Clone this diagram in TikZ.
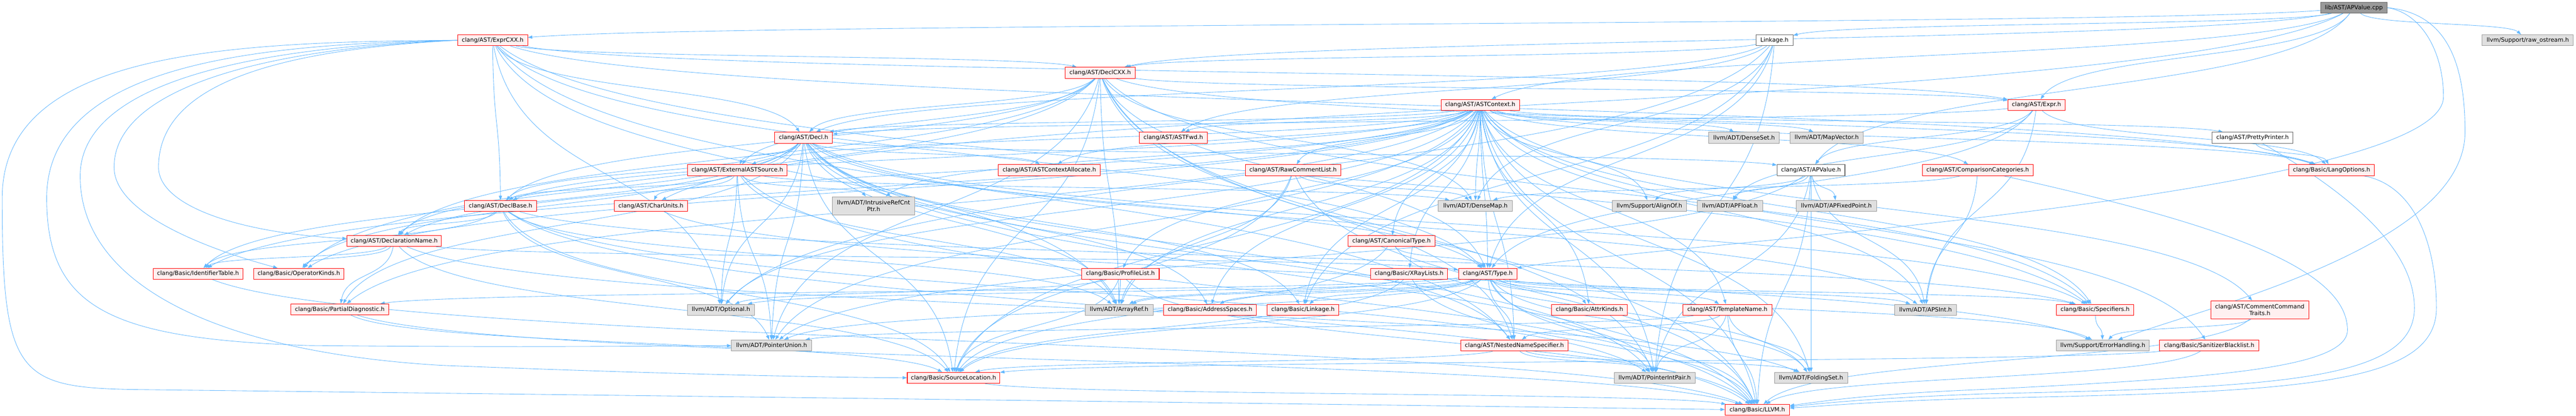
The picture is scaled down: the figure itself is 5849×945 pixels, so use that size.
\documentclass[tikz,border=0pt]{standalone}
\usepackage{fontspec}
\setmainfont{DejaVu Sans}
\usetikzlibrary{arrows.meta,calc}
\definecolor{edgeblue}{HTML}{63B8FF}
\definecolor{redfill}{HTML}{FFF0F0}
\definecolor{grayfill}{HTML}{E0E0E0}
\definecolor{grayline}{HTML}{999999}
\definecolor{darkline}{HTML}{666666}
\definecolor{rootfill}{HTML}{999999}
\pgfdeclarelayer{bg}
\pgfsetlayers{bg,main}
\tikzset{
  nbase/.style={rectangle, inner sep=0pt, minimum height=12.5pt, line width=0.6pt, font=\fontsize{6.6}{7.8}\selectfont, text=black, align=center},
  redbox/.style={nbase, draw=red, fill=redfill},
  graybox/.style={nbase, draw=grayline, fill=grayfill},
  whitebox/.style={nbase, draw=darkline, fill=white},
  rootbox/.style={nbase, draw=darkline, fill=rootfill},
  edge/.style={draw=edgeblue, line width=0.5pt, -{Triangle[length=5pt,width=3.6pt]}},
}
\newcommand\E[2]{\draw[edge] let \p1=(#1.center),\p2=(#2.center) in (#1) .. controls ({\x1+0.12*(\x2-\x1)},{\y1+0.55*(\y2-\y1)}) and ({\x2-0.12*(\x2-\x1)},{\y2-0.55*(\y2-\y1)}) .. (#2);}
\begin{document}
\begin{tikzpicture}[x=0.5pt,y=-0.5pt]
\begin{pgfonlayer}{bg}
\fill[white] (0,0) rectangle (5849,945);
\end{pgfonlayer}
\useasboundingbox (0,0) rectangle (5849,945);
% rank 0
\node[rootbox, minimum width=75.5pt] (cpp) at (5344.5,17.5) {lib/AST/APValue.cpp};
% rank 1
\node[redbox, minimum width=79.5pt] (exprcxx) at (1118.5,91.5) {clang/AST/ExprCXX.h};
\node[whitebox, minimum width=42pt] (linkageL) at (4029,91.5) {Linkage.h};
\node[graybox, minimum width=103.5pt] (rawos) at (5739.5,91.5) {llvm/Support/raw\_ostream.h};
% rank 2
\node[redbox, minimum width=80pt] (declcxx) at (2498,165.5) {clang/AST/DeclCXX.h};
% rank 3
\node[redbox, minimum width=89pt] (astctx) at (3361,238.5) {clang/AST/ASTContext.h};
\node[redbox, minimum width=65pt] (expr) at (4624,238.5) {clang/AST/Expr.h};
% rank 4
\node[redbox, minimum width=65.5pt] (decl) at (1824.5,313) {clang/AST/Decl.h};
\node[redbox, minimum width=77pt] (astfwd) at (2664,313) {clang/AST/ASTFwd.h};
\node[graybox, minimum width=80pt] (denseset) at (3960,313) {llvm/ADT/DenseSet.h};
\node[graybox, minimum width=83.5pt] (mapvec) at (4147.5,313) {llvm/ADT/MapVector.h};
\node[whitebox, minimum width=91.5pt] (pretty) at (5114.5,313) {clang/AST/PrettyPrinter.h};
% rank 5
\node[redbox, minimum width=113pt] (extsrc) at (1674,386.5) {clang/AST/ExternalASTSource.h};
\node[redbox, minimum width=115.5pt] (alloc) at (2382.5,386.5) {clang/AST/ASTContextAllocate.h};
\node[redbox, minimum width=108pt] (rawcomment) at (2936,386.5) {clang/AST/RawCommentList.h};
\node[whitebox, minimum width=77pt] (apvalue) at (4112,386.5) {clang/AST/APValue.h};
\node[redbox, minimum width=125.5pt] (cmpcat) at (4490.5,386.5) {clang/AST/ComparisonCategories.h};
\node[redbox, minimum width=97pt] (langopts) at (5294,386.5) {clang/Basic/LangOptions.h};
% rank 6
\node[redbox, minimum width=81.5pt] (declbase) at (1136.5,468) {clang/AST/DeclBase.h};
\node[redbox, minimum width=83pt] (charunits) at (1478,468) {clang/AST/CharUnits.h};
\node[graybox, minimum width=93.5pt, minimum height=20.5pt] (irc) at (1983.5,467.5) {llvm/ADT/IntrusiveRefCnt\\Ptr.h};
\node[graybox, minimum width=84pt] (densemap) at (3350,468) {llvm/ADT/DenseMap.h};
\node[graybox, minimum width=84pt] (alignof) at (3745,468) {llvm/Support/AlignOf.h};
\node[graybox, minimum width=74pt] (apfloat) at (3928,468) {llvm/ADT/APFloat.h};
\node[graybox, minimum width=91.5pt] (apfixed) at (4169.5,468) {llvm/ADT/APFixedPoint.h};
% rank 7
\node[redbox, minimum width=107pt] (declname) at (895,547.5) {clang/AST/DeclarationName.h};
\node[redbox, minimum width=98.5pt] (canon) at (3159.5,547.5) {clang/AST/CanonicalType.h};
% rank 8
\node[redbox, minimum width=101.5pt] (idtable) at (449.5,622) {clang/Basic/IdentifierTable.h};
\node[redbox, minimum width=102.5pt] (opkinds) at (678.5,622) {clang/Basic/OperatorKinds.h};
\node[redbox, minimum width=88pt] (profile) at (2544,622) {clang/Basic/ProfileList.h};
\node[redbox, minimum width=87.5pt] (xray) at (3199.5,622) {clang/Basic/XRayLists.h};
\node[redbox, minimum width=66pt] (type) at (3378,622) {clang/AST/Type.h};
% rank 9
\node[redbox, minimum width=111.5pt] (pdiag) at (771.5,703) {clang/Basic/PartialDiagnostic.h};
\node[graybox, minimum width=76pt] (optional) at (1637,704) {llvm/ADT/Optional.h};
\node[graybox, minimum width=77pt] (arrayref) at (2541,704) {llvm/ADT/ArrayRef.h};
\node[redbox, minimum width=105.5pt] (addrspace) at (2747.5,704) {clang/Basic/AddressSpaces.h};
\node[redbox, minimum width=81.5pt] (linkageB) at (2958.5,704) {clang/Basic/Linkage.h};
\node[redbox, minimum width=86pt] (attrkinds) at (3609,704) {clang/Basic/AttrKinds.h};
\node[redbox, minimum width=101pt] (tmplname) at (3922,704) {clang/AST/TemplateName.h};
\node[graybox, minimum width=70pt] (apsint) at (4372,704) {llvm/ADT/APSInt.h};
\node[redbox, minimum width=88pt] (specifiers) at (4757,704) {clang/Basic/Specifiers.h};
\node[redbox, minimum width=111pt, minimum height=20.5pt] (cct) at (5131,704) {clang/AST/CommentCommand\\Traits.h};
% rank 10
\node[graybox, minimum width=91pt] (pointerunion) at (1752,785) {llvm/ADT/PointerUnion.h};
\node[redbox, minimum width=121.5pt] (nns) at (3438.5,785) {clang/AST/NestedNameSpecifier.h};
\node[graybox, minimum width=105.5pt] (errh) at (4774.5,785) {llvm/Support/ErrorHandling.h};
\node[redbox, minimum width=113pt] (sanit) at (5016,785) {clang/Basic/SanitizerBlacklist.h};
% rank 11
\node[redbox, minimum width=105pt] (srcloc) at (2165,858.5) {clang/Basic/SourceLocation.h};
\node[graybox, minimum width=92pt] (pip) at (3757,858.5) {llvm/ADT/PointerIntPair.h};
\node[graybox, minimum width=83pt] (folding) at (4112,858.5) {llvm/ADT/FoldingSet.h};
% rank 12
\node[redbox, minimum width=73pt] (llvmh) at (3990,931.5) {clang/Basic/LLVM.h};

\begin{pgfonlayer}{bg}
\foreach \t in {apvalue,linkageL,astctx,charunits,declcxx,expr,exprcxx,rawos} {\E{cpp}{\t}}
\draw[edge] (cpp.east) .. controls (5560,30) and (5597,150) .. (5597,300) .. controls (5597,560) and (5000,700) .. (errh);
\draw[edge] (cpp.east) .. controls (5500,30) and (5548,120) .. (5548,220) .. controls (5548,450) and (3700,560) .. (type);
\foreach \t in {astfwd,decl,declcxx,type,linkageB,densemap,optional,pip} {\E{linkageL}{\t}}
\foreach \t in {decl,declbase,declcxx,expr,nns,type,langopts,specifiers,arrayref,optional} {\E{exprcxx}{\t}}
\draw[edge] (exprcxx.west) .. controls (500,95) and (5,120) .. (5,450) .. controls (5,850) and (40,880) .. (300,885) .. controls (2000,905) and (3500,925) .. (llvmh);
\draw[edge] (exprcxx.west) .. controls (600,100) and (106,140) .. (106,450) .. controls (106,700) and (250,770) .. (700,785) .. controls (1200,790) and (1500,786) .. (pointerunion);
\draw[edge] (exprcxx.west) .. controls (600,105) and (182,180) .. (182,400) .. controls (182,650) and (500,800) .. (1000,830) .. controls (1500,850) and (1900,858) .. (srcloc);
\draw[edge] (exprcxx.west) .. controls (600,110) and (259,200) .. (259,380) .. controls (259,480) and (450,560) .. (opkinds);
\draw[edge] (exprcxx.west) .. controls (600,115) and (360,200) .. (360,380) .. controls (360,470) and (550,530) .. (declname);
\foreach \t in {decl,declbase,declname,expr,extsrc,nns,type,llvmh,langopts,opkinds,srcloc,specifiers,arrayref,densemap,pip,pointerunion} {\E{declcxx}{\t}}
\foreach \t in {alloc,astfwd,canon,cct,cmpcat,decl,declbase,declname,extsrc,nns,pretty,rawcomment,tmplname,type,addrspace,attrkinds,idtable,llvmh,langopts,linkageB,opkinds,pdiag,profile,sanit,srcloc,specifiers,xray,apsint,arrayref,densemap,denseset,folding,irc,mapvec,optional,pip,pointerunion,alignof} {\E{astctx}{\t}}
\foreach \t in {apvalue,decl,type,langopts,apfloat,apsint} {\E{expr}{\t}}
\foreach \t in {apvalue,alloc,declbase,declname,extsrc,nns,type,addrspace,idtable,llvmh,linkageB,opkinds,pdiag,srcloc,specifiers,apsint,arrayref,optional,pip,pointerunion} {\E{decl}{\t}}
\E{pretty}{langopts}
\draw[edge] (pretty) .. controls (5300,420) and (5482,550) .. (5482,700) .. controls (5482,870) and (5150,880) .. (4500,895) .. controls (4250,905) and (4150,915) .. (llvmh);
\foreach \t in {charunits,declbase,llvmh,arrayref,densemap,irc,optional,pointerunion} {\E{extsrc}{\t}}
\foreach \t in {llvmh,srcloc,arrayref,densemap} {\E{rawcomment}{\t}}
\foreach \t in {llvmh,apfixed,apfloat,apsint,folding,pip,pointerunion,alignof} {\E{apvalue}{\t}}
\foreach \t in {apsint,densemap} {\E{cmpcat}{\t}}
\draw[edge] (cmpcat) .. controls (5000,500) and (5330,600) .. (5330,750) .. controls (5330,840) and (5000,860) .. (4500,885) .. controls (4250,895) and (4150,910) .. (llvmh);
\draw[edge] (langopts) .. controls (5480,420) and (5532,550) .. (5532,700) .. controls (5532,880) and (5200,890) .. (4500,905) .. controls (4250,912) and (4150,922) .. (llvmh);
\foreach \t in {declname,idtable,llvmh,srcloc,specifiers,arrayref,pip,pointerunion} {\E{declbase}{\t}}
\E{charunits}{errh}
\foreach \t in {type,idtable,opkinds,pdiag,srcloc,folding} {\E{declname}{\t}}
\foreach \t in {type,srcloc,folding} {\E{canon}{\t}}
\E{idtable}{llvmh}
\foreach \t in {llvmh,srcloc,arrayref,optional} {\E{profile}{\t}}
\foreach \t in {llvmh,srcloc,arrayref} {\E{xray}{\t}}
\foreach \t in {nns,tmplname,addrspace,attrkinds,llvmh,linkageB,pdiag,srcloc,specifiers,apsint,arrayref,folding,optional,pip,pointerunion,errh} {\E{type}{\t}}
\foreach \t in {llvmh,srcloc} {\E{pdiag}{\t}}
\foreach \t in {nns,llvmh,folding,pip,pointerunion} {\E{tmplname}{\t}}
\E{specifiers}{errh}
\foreach \t in {llvmh,errh} {\E{cct}{\t}}
\foreach \t in {srcloc,folding,pip} {\E{nns}{\t}}
\foreach \t in {llvmh,srcloc} {\E{sanit}{\t}}
\E{srcloc}{llvmh}
\end{pgfonlayer}
\end{tikzpicture}
\end{document}
